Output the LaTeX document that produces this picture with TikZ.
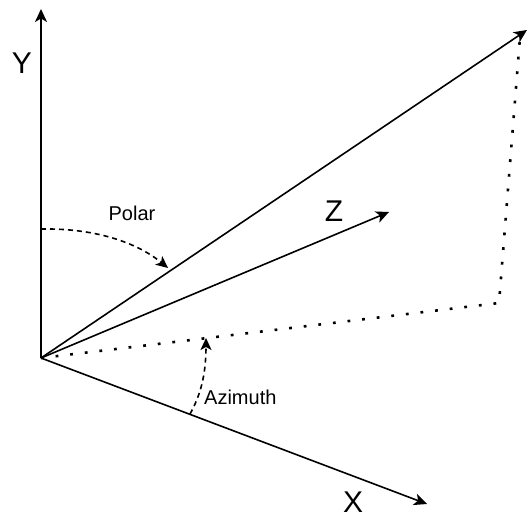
\documentclass[tikz,border=0pt]{standalone}
\usepackage{fontspec}
\setmainfont{Liberation Sans}
\usetikzlibrary{arrows.meta}
\begin{document}
\begin{tikzpicture}[x=1pt,y=-1pt,
  axisline/.style={line width=1.6pt,-{Stealth[length=13pt,width=12pt,inset=3.5pt]}},
  dashedarc/.style={line width=1.6pt,dash pattern=on 5pt off 4pt,-{Stealth[length=12pt,width=11pt,inset=3pt]}},
  dottedline/.style={line width=2.6pt,dash pattern=on 2.8pt off 11.9pt},
  biglabel/.style={font=\fontsize{30}{32}\selectfont,inner sep=0pt},
  smalllabel/.style={font=\fontsize{20}{22}\selectfont,inner sep=0pt}]
\useasboundingbox (0,0) rectangle (529,518);
\coordinate (O) at (41,358);
\coordinate (Ytip) at (41,9);
\coordinate (Xtip) at (427,504);
\coordinate (Ztip) at (389,212);
\coordinate (Vtip) at (527,30);
\coordinate (P) at (499,303);
\coordinate (Pend) at (520,37);
\coordinate (polS) at (41,229);
\coordinate (polE) at (168,268);
\coordinate (azS) at (190,414);
\coordinate (azE) at (206,338);
% axes
\draw[axisline] (O) -- (Ytip);
\draw[axisline] (O) -- (Xtip);
\draw[axisline] (O) -- (Ztip);
\draw[axisline] (O) -- (Vtip);
% projection
\draw[dottedline] (O) -- (P) -- (Pend);
% arcs
\draw[dashedarc] (polS) .. controls (100,228) and (140,245) .. (polE);
\draw[dashedarc] (azS) .. controls (200,396) and (206,376) .. (azE);
% labels
\node[biglabel] (Ylab) at (22,63) {Y};
\node[biglabel] (Xlab) at (353,502) {X};
\node[biglabel] (Zlab) at (334,211) {Z};
\node[smalllabel] (Pollab) at (132,213) {Polar};
\node[smalllabel,anchor=west] (Azlab) at (204,397) {Azimuth};
\end{tikzpicture}
\end{document}
